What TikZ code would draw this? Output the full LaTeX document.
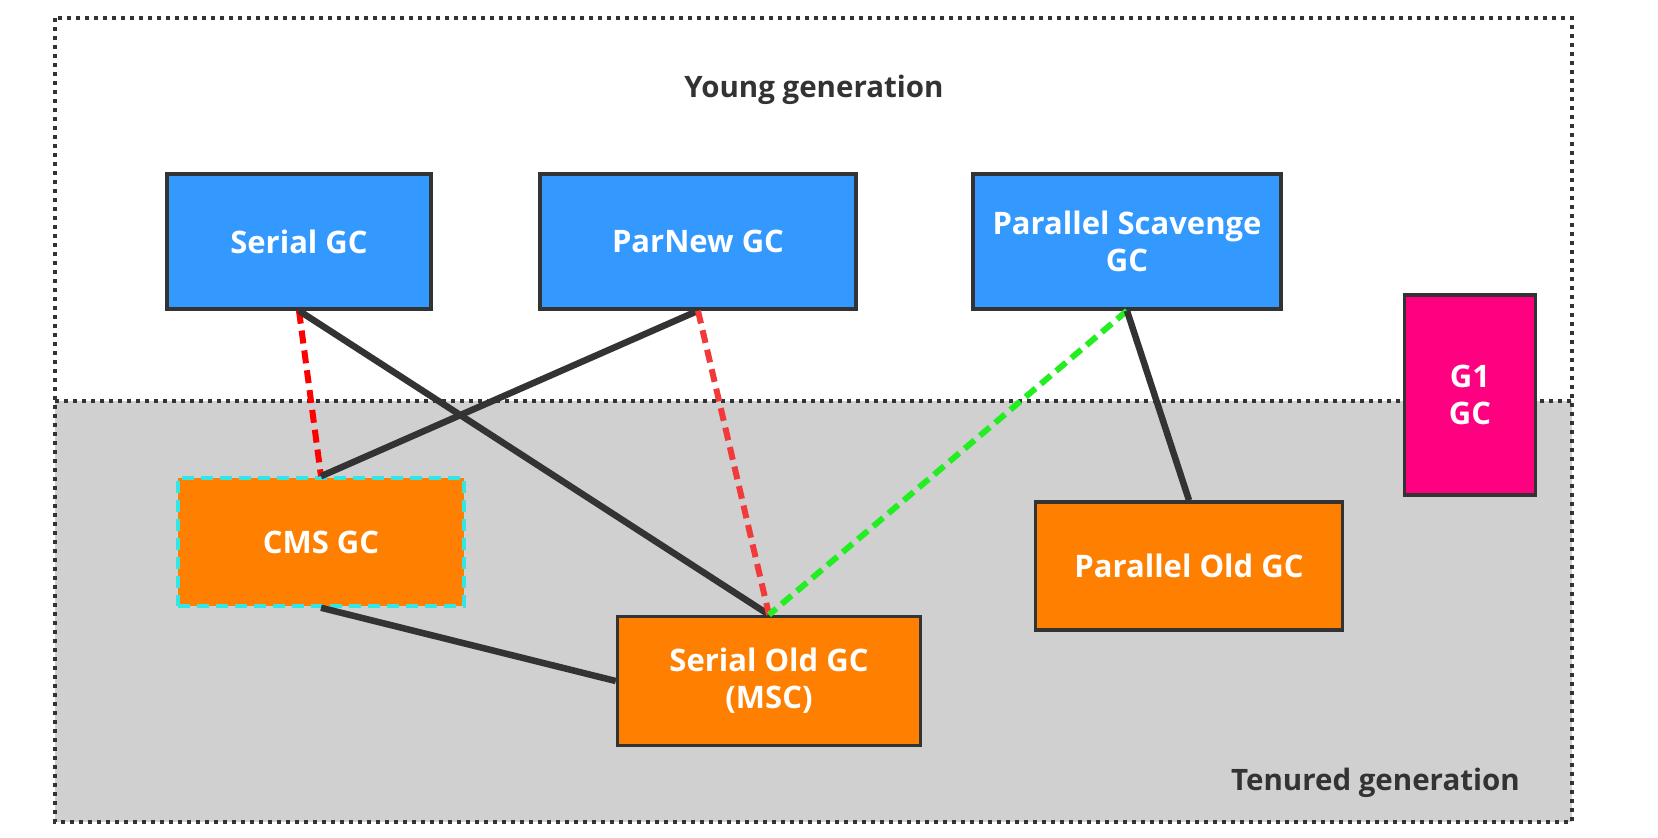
\documentclass[tikz,border=0pt]{standalone}
\usepackage{fontspec}
\setmainfont{Open Sans}
\definecolor{gcblue}{HTML}{3399FF}
\definecolor{gcorange}{HTML}{FF8000}
\definecolor{gcpink}{HTML}{FF0080}
\definecolor{gcgray}{HTML}{D0D0D0}
\definecolor{gcdark}{HTML}{333333}
\definecolor{gcred}{HTML}{FF0000}
\definecolor{gcred2}{HTML}{F23A3A}
\definecolor{gcgreen}{HTML}{22EE22}
\definecolor{gccyan}{HTML}{33E6E6}
\tikzset{
  gcbox/.style={draw=gcdark, line width=3.5pt, text=white, align=center,
    font=\bfseries\fontsize{31}{37}\selectfont, inner sep=0pt},
  young/.style={gcbox, fill=gcblue},
  old/.style={gcbox, fill=gcorange},
  solidlink/.style={draw=gcdark, line width=6.5pt},
  redlink/.style={draw=gcred, line width=6pt, dash pattern=on 13pt off 7pt},
  redlinkb/.style={draw=gcred2, line width=6pt, dash pattern=on 13pt off 7pt},
  greenlink/.style={draw=gcgreen, line width=6pt, dash pattern=on 13pt off 7pt},
  genlabel/.style={text=gcdark, font=\bfseries\fontsize{29.5}{34}\selectfont, inner sep=0pt},
  region/.style={draw=gcdark, line width=3.5pt, dash pattern=on 4pt off 5pt}
}
\begin{document}
\begin{tikzpicture}[x=1pt,y=-1pt]
\useasboundingbox (0,0) rectangle (1658,838);
\fill[white] (0,0) rectangle (1658,838);
% regions
\fill[gcgray] (55,401) rectangle (1572,822);
\draw[region] (55,18) rectangle (1572,822);
\draw[region] (55,401) -- (1572,401);
\node[genlabel] (younglbl) at (814,90) {Young generation};
\node[genlabel, anchor=east] (tenlbl) at (1520,783) {Tenured generation};
% boxes
\node[young, minimum width=264pt, minimum height=135pt] (serial) at (299,241.5) {Serial GC};
\node[young, minimum width=316pt, minimum height=135pt] (parnew) at (698,241.5) {ParNew GC};
\node[young, minimum width=308pt, minimum height=135pt] (ps) at (1127,241.5) {Parallel Scavenge\\GC};
\node[gcbox, fill=gcpink, minimum width=131pt, minimum height=200pt] (g1) at (1470,395) {G1\\GC};
\node[old, draw=gccyan, dash pattern=on 12pt off 7pt, minimum width=286pt, minimum height=128pt] (cms) at (321,542) {CMS GC};
\node[old, minimum width=303pt, minimum height=129pt] (serialold) at (769,681) {Serial Old GC\\(MSC)};
\node[old, minimum width=307pt, minimum height=128pt] (parold) at (1189,566) {Parallel Old GC};
% connectors
\draw[redlink] (serial.south) -- (cms.north);
\draw[solidlink] (serial.south) -- (serialold.north);
\draw[solidlink] (parnew.south) -- (cms.north);
\draw[redlinkb] (parnew.south) -- (serialold.north);
\draw[greenlink] (ps.south) -- (serialold.north);
\draw[solidlink] (ps.south) -- (parold.north);
\draw[solidlink] (cms.south) -- (serialold.west);
\end{tikzpicture}
\end{document}
